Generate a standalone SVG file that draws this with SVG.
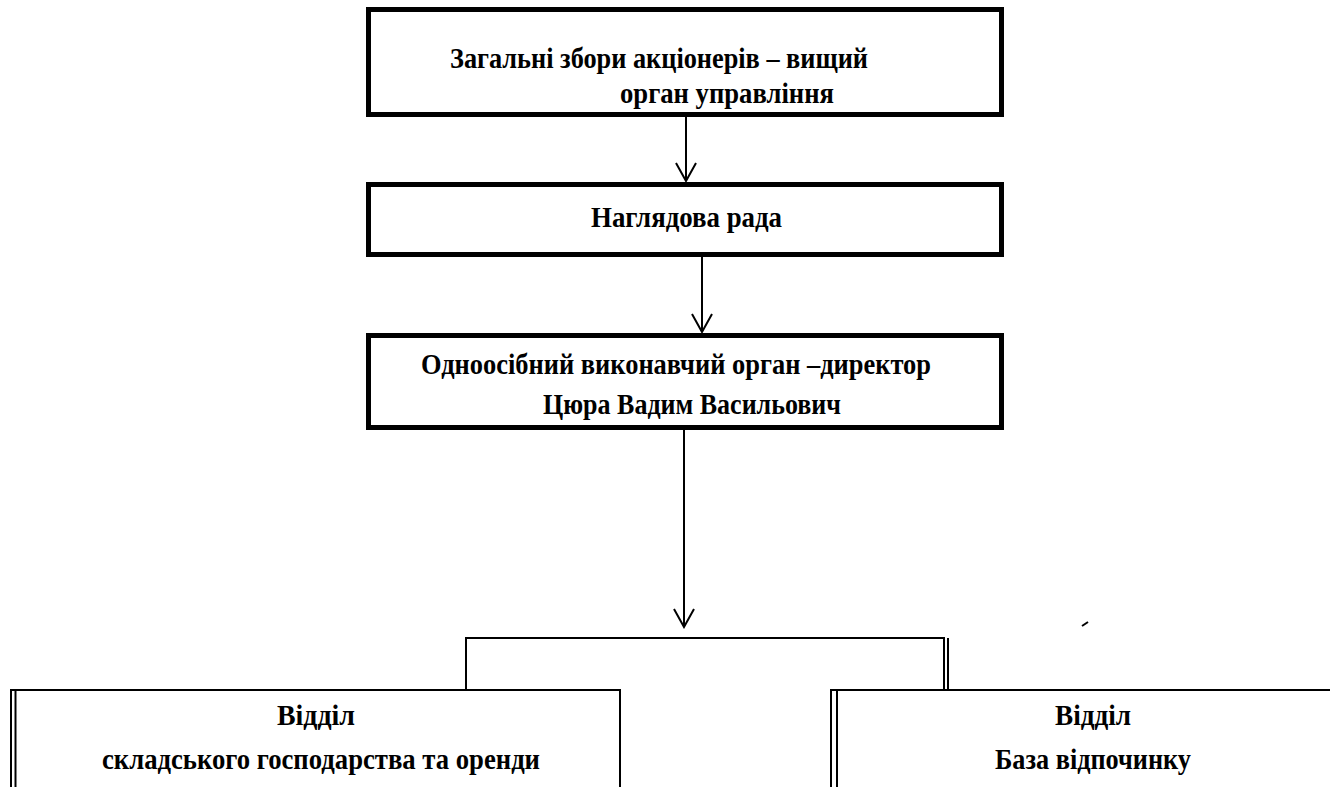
<svg xmlns="http://www.w3.org/2000/svg" width="1330" height="787" viewBox="0 0 1330 787">
<defs>
<style>
.box{fill:#fff;stroke:#000;stroke-width:5}
.thin{fill:none;stroke:#000;stroke-width:2}
.t{font-family:"Liberation Serif","Times New Roman",serif;font-weight:bold;font-size:29px;fill:#000}
.c{text-anchor:middle}
</style>
<marker id="arr" viewBox="0 0 22 24" refX="20" refY="12" markerWidth="22" markerHeight="24" markerUnits="userSpaceOnUse" orient="auto">
<path d="M2,2 L20,12 L2,22" fill="none" stroke="#000" stroke-width="2"/>
</marker>
</defs>
<rect width="1330" height="787" fill="#fff"/>
<g id="connectors">
<line class="thin" x1="686" y1="117" x2="686" y2="181" marker-end="url(#arr)"/>
<line class="thin" x1="702" y1="257" x2="702" y2="332" marker-end="url(#arr)"/>
<line class="thin" x1="684" y1="430" x2="684" y2="627" marker-end="url(#arr)"/>
<polyline class="thin" points="466,690 466,638 944,638 944,690"/>
<line class="thin" x1="948" y1="638" x2="948" y2="690"/>
<line class="thin" x1="1082" y1="626" x2="1088" y2="622"/>
</g>
<g id="node-general-meeting">
<rect class="box" x="368.5" y="9.5" width="633" height="105"/>
<text class="t" x="450" y="68" textLength="418" lengthAdjust="spacingAndGlyphs">Загальні збори акціонерів – вищий</text>
<text class="t" x="620" y="103" textLength="214" lengthAdjust="spacingAndGlyphs">орган управління</text>
</g>
<g id="node-supervisory-board">
<rect class="box" x="368.5" y="184.5" width="633" height="70"/>
<text class="t" x="591" y="227" textLength="191" lengthAdjust="spacingAndGlyphs">Наглядова рада</text>
</g>
<g id="node-director">
<rect class="box" x="368.5" y="335.5" width="633" height="92"/>
<text class="t" x="421" y="374" textLength="510" lengthAdjust="spacingAndGlyphs">Одноосібний виконавчий орган –директор</text>
<text class="t" x="543" y="414" textLength="298" lengthAdjust="spacingAndGlyphs">Цюра Вадим Васильович</text>
</g>
<g id="node-warehouse">
<rect class="thin" x="11" y="690" width="609" height="200"/>
<line class="thin" x1="15.5" y1="690" x2="15.5" y2="787"/>
<text class="t c" x="316" y="725" textLength="78" lengthAdjust="spacingAndGlyphs">Відділ</text>
<text class="t c" x="321" y="769" textLength="438" lengthAdjust="spacingAndGlyphs">складського господарства та оренди</text>
</g>
<g id="node-recreation">
<rect class="thin" x="831" y="690" width="520" height="200"/>
<line class="thin" x1="837" y1="690" x2="837" y2="787"/>
<text class="t c" x="1093" y="725" textLength="76" lengthAdjust="spacingAndGlyphs">Відділ</text>
<text class="t c" x="1093" y="769" textLength="196" lengthAdjust="spacingAndGlyphs">База відпочинку</text>
</g>
</svg>
